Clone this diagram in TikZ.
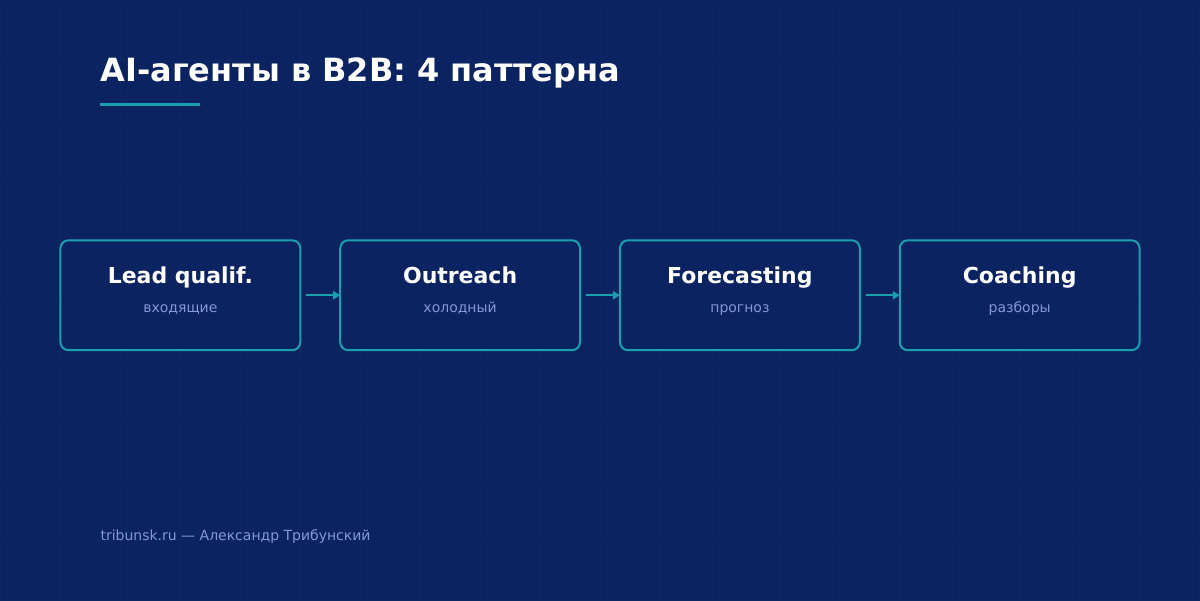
\documentclass[tikz,border=0pt]{standalone}
\usepackage{fontspec}
\setmainfont{DejaVu Sans}
\usetikzlibrary{arrows.meta, positioning}
\definecolor{bgnavy}{RGB}{11, 35, 96}
\definecolor{gridnavy}{RGB}{13, 38, 100}
\definecolor{teal1}{RGB}{26, 160, 176}
\definecolor{muted1}{RGB}{132, 152, 212}

\tikzset{
  patternbox/.style={draw=teal1, line width=2pt, rounded corners=8pt, fill=bgnavy,
    minimum width=240pt, minimum height=110pt, inner sep=0pt},
  boxtitle/.style={anchor=base, text=white, font=\fontsize{22}{26}\selectfont\bfseries},
  boxsub/.style={anchor=base, text=muted1, font=\fontsize{14}{17}\selectfont},
  flow/.style={draw=teal1, line width=2pt, -{Triangle[length=7pt, width=8pt]}, shorten <=5pt, shorten >=-1pt}
}

\begin{document}
\begin{tikzpicture}[x=1pt, y=-1pt]
  % Background and faint grid
  \fill[bgnavy] (0,0) rectangle (1200,600);
  \draw[gridnavy, line width=1pt] (0,0) grid[step=60pt] (1200,600);
  \useasboundingbox (0,0) rectangle (1200,600);

  % Heading
  \node[anchor=base west, text=white, inner sep=0pt, font=\fontsize{32}{38}\selectfont\bfseries] (title) at (100, 81) {AI-агенты в B2B: 4 паттерна};
  \draw[teal1, line width=3pt] (100, 104) coordinate (ulA) -- (200, 104) coordinate (ulB);

  % The four patterns
  \node[patternbox] (lead) at (180, 295) {};
  \node[boxtitle] (lead-t) at (180, 283) {Lead qualif.};
  \node[boxsub] (lead-s) at (180, 312) {входящие};

  \node[patternbox] (outreach) at (460, 295) {};
  \node[boxtitle] (outreach-t) at (460, 283) {Outreach};
  \node[boxsub] (outreach-s) at (460, 312) {холодный};

  \node[patternbox] (forecast) at (740, 295) {};
  \node[boxtitle] (forecast-t) at (740, 283) {Forecasting};
  \node[boxsub] (forecast-s) at (740, 312) {прогноз};

  \node[patternbox] (coaching) at (1020, 295) {};
  \node[boxtitle] (coaching-t) at (1020, 283) {Coaching};
  \node[boxsub] (coaching-s) at (1020, 312) {разборы};

  % Arrows between patterns
  \draw[flow] (lead) -- (outreach);
  \draw[flow] (outreach) -- (forecast);
  \draw[flow] (forecast) -- (coaching);

  % Footer
  \node[anchor=base west, text=muted1, inner sep=0pt, font=\fontsize{14}{17}\selectfont] (footer) at (100, 540) {tribunsk.ru — Александр Трибунский};
\end{tikzpicture}
\end{document}
